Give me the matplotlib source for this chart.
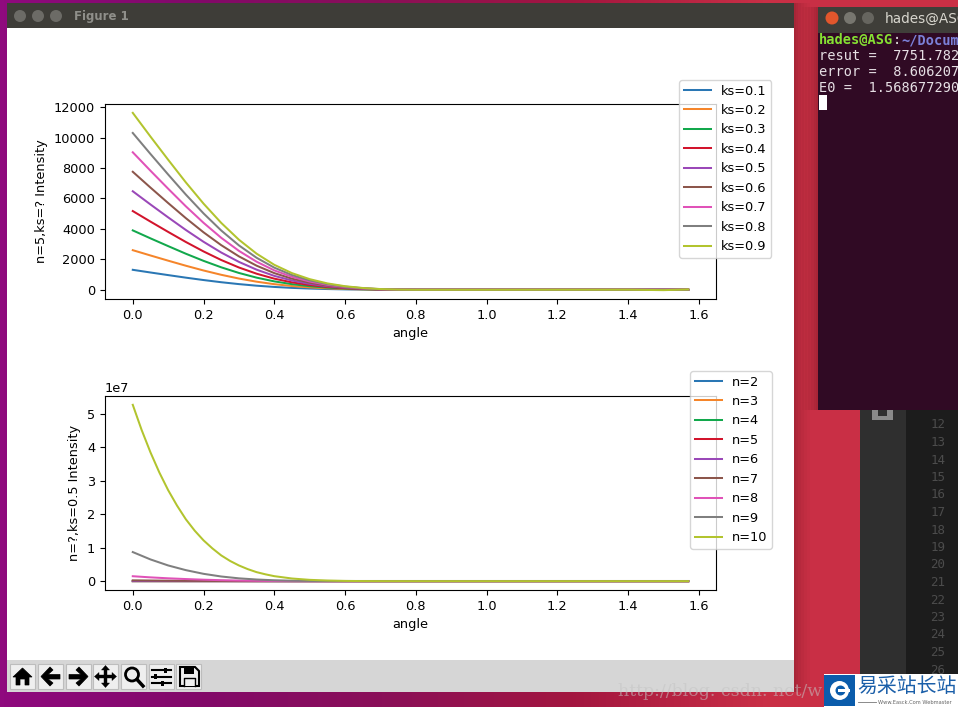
import numpy as np
import matplotlib
matplotlib.use('Agg')
import matplotlib.pyplot as plt
from matplotlib.colors import LinearSegmentedColormap
from matplotlib.patches import Rectangle, Circle, Polygon

plt.rcParams['font.size'] = 9.3
plt.rcParams['lines.linewidth'] = 1.45

# 1. Data
angle = [0, 0.05, 0.1, 0.15, 0.2, 0.25, 0.3, 0.35, 0.4, 0.45, 0.5, 0.55, 0.6, 0.65, 0.7, 0.75, 0.8,
         1.0, 1.2, 1.4, 1.5, 1.57]
angle_n10 = [0, 0.025, 0.05, 0.075, 0.1, 0.125, 0.15, 0.175, 0.2, 0.225, 0.25, 0.275, 0.3, 0.325, 0.35, 0.375, 0.4,
             0.45, 0.5, 0.55, 0.6, 0.65, 0.7, 0.8, 1.0, 1.2, 1.4, 1.57]
flat = [0, 0, 0, 0, 0]

ks_labels = ['ks=0.1', 'ks=0.2', 'ks=0.3', 'ks=0.4', 'ks=0.5', 'ks=0.6', 'ks=0.7', 'ks=0.8', 'ks=0.9']
ks_01 = [1310, 1134, 963, 795, 638, 495, 371, 267, 185, 123, 79, 47, 26, 13, 5, 1, 0] + flat
ks_02 = [2600, 2252, 1911, 1578, 1266, 983, 736, 530, 367, 244, 156, 94, 52, 26, 10, 3, 0] + flat
ks_03 = [3900, 3377, 2867, 2367, 1899, 1474, 1104, 796, 550, 367, 234, 140, 78, 39, 16, 4, 0] + flat
ks_04 = [5170, 4477, 3800, 3138, 2518, 1954, 1463, 1055, 729, 486, 310, 186, 103, 52, 21, 5, 0] + flat
ks_05 = [6470, 5603, 4755, 3927, 3151, 2446, 1831, 1320, 912, 608, 388, 233, 129, 65, 26, 6, 0] + flat
ks_06 = [7750, 6712, 5696, 4704, 3774, 2930, 2193, 1581, 1093, 729, 465, 279, 155, 78, 31, 8, 0] + flat
ks_07 = [9030, 7820, 6637, 5481, 4398, 3413, 2555, 1842, 1273, 849, 542, 325, 181, 90, 36, 9, 0] + flat
ks_08 = [10300, 8920, 7571, 6252, 5016, 3893, 2915, 2101, 1452, 968, 618, 371, 206, 103, 41, 10, 0] + flat
ks_09 = [11620, 10063, 8541, 7053, 5659, 4392, 3288, 2370, 1638, 1092, 697, 418, 232, 116, 46, 12, 0,
         0, 5, 5, -25, 20]
ks_series = [ks_01, ks_02, ks_03, ks_04, ks_05, ks_06, ks_07, ks_08, ks_09]

n_labels = ['n=2', 'n=3', 'n=4', 'n=5', 'n=6', 'n=7', 'n=8', 'n=9', 'n=10']
n_02 = [32, 27, 23, 19, 15, 12, 9, 6, 4, 3, 2, 1, 1, 0, 0, 0, 0] + flat
n_03 = [190, 164, 139, 115, 92, 72, 54, 39, 27, 18, 11, 7, 4, 2, 1, 0, 0] + flat
n_04 = [1100, 950, 810, 670, 535, 415, 310, 225, 155, 103, 66, 40, 22, 11, 4, 1, 0] + flat
n_05 = ks_05
n_06 = [41000, 34000, 27500, 21500, 16500, 12200, 8700, 6000, 4000, 2500, 1500, 850, 430, 190, 70, 15, 0] + flat
n_07 = [247000, 195000, 150000, 113000, 82000, 57000, 37000, 23000, 13000, 7000, 3500, 1500, 500, 100, 0, 0, 0] + flat
n_08 = [1480000, 1140000, 858000, 636000, 444000, 296000, 185000, 111000, 59000, 30000, 15000, 6000, 1500, 0, 0, 0, 0] + flat
n_09 = [8700000, 6500000, 4700000, 3300000, 2200000, 1400000, 850000, 500000, 270000, 140000, 70000, 30000, 10000, 0, 0, 0, 0] + flat
n_10 = [52700000, 45200000, 38500000, 32500000, 27200000, 22600000, 18500000, 15100000, 12200000, 9800000, 7700000,
        6050000, 4700000, 3600000, 2700000, 2050000, 1500000, 800000, 400000, 200000, 80000, 30000, 10000, 0, 0, 0, 0, 0]
n_series = [n_02, n_03, n_04, n_05, n_06, n_07, n_08, n_09]

line_colors = ['#2a77b4', '#f5852a', '#12a84c', '#d2142c', '#9a48b8', '#8c564b', '#e052b8', '#7f7f7f', '#b2c42e']

W, H = 958, 707
fig = plt.figure(figsize=(W / 100, H / 100), dpi=100)

# 2. Desktop behind the plot window, drawn in pixel coordinates
bg = fig.add_axes([0, 0, 1, 1], zorder=0)
bg.set_xlim(0, W)
bg.set_ylim(H, 0)
bg.axis('off')

wall = LinearSegmentedColormap.from_list('wall', ['#8f0a7e', '#82096a', '#8a0f58', '#a3163f', '#c92f46', '#cb3045'])
bg.imshow(np.linspace(0, 1, 256).reshape(1, -1), cmap=wall, extent=(0, W, H, 0), aspect='auto', zorder=0)

def box(x0, y0, x1, y1, color, z=1, **kw):
    bg.add_patch(Rectangle((x0, y0), x1 - x0, y1 - y0, facecolor=color, edgecolor='none', zorder=z, **kw))

# soft window shadows
for d, a in [(16, 0.02), (13, 0.02), (10, 0.025), (7, 0.03), (4, 0.035), (2, 0.04)]:
    box(794, 3, 794 + d, 692, 'black', 1, alpha=a)
    box(818 - d, 7, 818, 410, 'black', 1, alpha=a)

# plot window
box(7, 3, 794, 28, '#3e3d38', 2)
box(7, 28, 794, 660, 'white', 2)
box(7, 660, 794, 692, '#d6d6d6', 2)
for cx in [20, 38, 56]:
    bg.add_patch(Circle((cx, 16), 6, facecolor='#6c6b66', edgecolor='none', zorder=3))
bg.text(74, 16.5, 'Figure 1', color='#8f8f8a', fontsize=8.5, fontweight='bold', va='center', zorder=3)

# toolbar buttons
for x0 in [10, 38, 66, 93, 121, 149, 176]:
    bg.add_patch(Rectangle((x0, 664), 25, 25, facecolor='#efefef', edgecolor='#bdbdbd', lw=0.8, zorder=3))

def icon(points, filled=True, lw=1.5):
    bg.add_patch(Polygon(points, closed=True, facecolor='black' if filled else 'none',
                         edgecolor='black', lw=lw, zorder=4))

# home
icon([(13, 677), (22.5, 668), (32, 677), (29, 677), (29, 685), (25, 685), (25, 679), (20, 679), (20, 685), (16, 685), (16, 677)], lw=0.5)
# back / forward
icon([(41, 676.5), (50, 667), (53, 670), (48, 674.5), (60, 674.5), (60, 679), (48, 679), (53, 683), (50, 686)], lw=0.5)
icon([(88, 676.5), (79, 667), (76, 670), (81, 674.5), (69, 674.5), (69, 679), (81, 679), (76, 683), (79, 686)], lw=0.5)
# pan
icon([(105.5, 665.5), (109.5, 670), (107, 670), (107, 675), (112, 675), (112, 672.5), (116.5, 676.5),
      (112, 680.5), (112, 678), (107, 678), (107, 683), (109.5, 683), (105.5, 687.5), (101.5, 683), (104, 683),
      (104, 678), (99, 678), (99, 680.5), (94.5, 676.5), (99, 672.5), (99, 675), (104, 675), (104, 670), (101.5, 670)], lw=0.3)
# zoom
bg.add_patch(Circle((132, 674.5), 6.5, facecolor='none', edgecolor='black', lw=2, zorder=4))
bg.plot([137, 143], [679.5, 686], color='black', lw=2.5, zorder=4)
# subplots
for yy, xk in [(670, 166), (676.5, 156), (683, 163)]:
    bg.plot([152, 171], [yy, yy], color='black', lw=1.5, zorder=4)
    box(xk - 1.5, yy - 2.5, xk + 1.5, yy + 2.5, 'black', 5)
# save
icon([(180, 667), (195, 667), (199, 671), (199, 686), (180, 686)], filled=False)
box(184, 667, 194, 674, 'black', 5)
box(184, 678, 195, 686, '#efefef', 5)
bg.plot([184, 184, 195, 195], [686, 678, 678, 686], color='black', lw=1, zorder=6)

# editor behind the terminal
box(860, 400, 906, H, '#2f2f2f', 1)
box(906, 400, W, H, '#1c1c1c', 1)
box(872, 410, 893, 420, '#8a8a8a', 1.5)
box(878, 410, 887, 416, '#2f2f2f', 1.6)
for i, num in enumerate(range(12, 27)):
    bg.text(938, 425 + i * 17.5, str(num), color='#4c4c4c', fontsize=9, family='DejaVu Sans Mono',
            ha='center', va='center', zorder=2)

# terminal
box(818, 7, W, 33, '#3f3e39', 3)
box(818, 33, W, 410, '#300a24', 3)
bg.add_patch(Circle((832, 18), 6.5, facecolor='#e2562c', edgecolor='none', zorder=4))
bg.add_patch(Circle((850, 18), 6, facecolor='#77766f', edgecolor='none', zorder=4))
bg.add_patch(Circle((868, 18), 6, facecolor='#66655f', edgecolor='none', zorder=4))
bg.text(885, 19, 'hades@ASG', color='#d8d6ce', fontsize=9.8, va='center', zorder=4)
mono = dict(family='DejaVu Sans Mono', fontsize=9.8, va='center', zorder=4)
bg.text(819, 40, 'hades@ASG', color='#86e033', fontweight='bold', **mono)
bg.text(893, 40, ':', color='#e6e6e6', **mono)
bg.text(901, 40, '~/Docum', color='#7b80d8', fontweight='bold', **mono)
bg.text(819, 56, 'resut =  7751.782', color='#e6dfe4', **mono)
bg.text(819, 72, 'error =  8.606207', color='#e6dfe4', **mono)
bg.text(819, 88, 'E0 =  1.568677290', color='#e6dfe4', **mono)
box(819, 95, 827, 110, 'white', 4)

# watermark and site logo
bg.text(618, 692, 'http://blog. csdn. net/w', color='#c4c4c4', alpha=0.55, fontsize=12.5,
        family='DejaVu Serif', va='center', zorder=6)
box(824, 674, W, H, 'white', 7)
box(824, 675, 855, 706, '#0b5cab', 8)
bg.add_patch(Circle((839.5, 690.5), 9.5, facecolor='white', edgecolor='none', zorder=9))
bg.add_patch(Circle((840.5, 690.5), 5, facecolor='#0b5cab', edgecolor='none', zorder=10))
box(838, 689, W - 108, 692, 'white', 11)
bg.text(857, 686.5, '易采站长站', color='#1b5fa9', fontsize=14.3, family='Noto Sans CJK SC', va='center', zorder=9)
bg.plot([858, 876], [702, 702], color='#777777', lw=0.6, zorder=9)
bg.text(878, 702, 'Www.Easck.Com Webmaster', color='#666666', fontsize=3.7, va='center', zorder=9)

# 3. The two plots
legend_opts = dict(loc='upper left', bbox_transform=fig.transFigure, borderaxespad=0,
                   handlelength=2.1, handletextpad=0.8, borderpad=0.35)

ax1 = fig.add_axes([105 / W, 1 - 299 / H, 611 / W, 195 / H], zorder=1)
for vals, lab, col in zip(ks_series, ks_labels, line_colors):
    ax1.plot(angle, vals, label=lab, color=col)
ax1.set_xlabel('angle')
ax1.set_ylabel('n=5,ks=? Intensity')
ax1.legend(bbox_to_anchor=(679 / W, 1 - 80 / H), **legend_opts)

ax2 = fig.add_axes([105 / W, 1 - 590 / H, 611 / W, 194 / H], zorder=1)
for vals, lab, col in zip(n_series, n_labels, line_colors):
    ax2.plot(angle, vals, label=lab, color=col)
ax2.plot(angle_n10, n_10, label=n_labels[8], color=line_colors[8])
ax2.set_xlabel('angle')
ax2.set_ylabel('n=?,ks=0.5 Intensity')
ax2.legend(bbox_to_anchor=(690 / W, 1 - 371 / H), **legend_opts)

fig.savefig('out.png', dpi=100)
